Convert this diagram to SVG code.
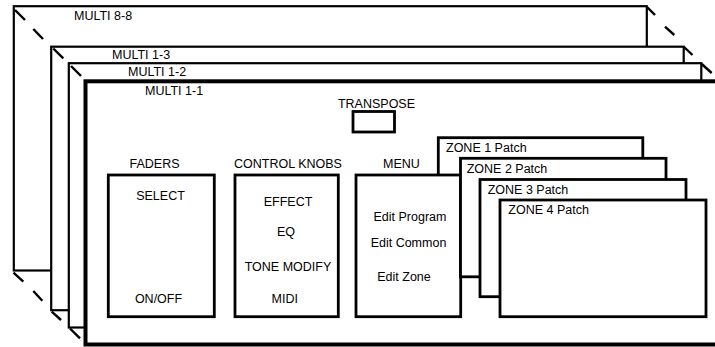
<svg xmlns="http://www.w3.org/2000/svg" width="715" height="347" viewBox="0 0 715 347">
<style>
text{font-family:"Liberation Sans",Arial,sans-serif;font-size:12.5px;fill:#000}
.fr{fill:#fff;stroke:#000;stroke-width:2.2}
.fr1{fill:#fff;stroke:#000;stroke-width:4}
.bx{fill:#fff;stroke:#000;stroke-width:2.8}
.m{text-anchor:middle}
.d{stroke:#000;stroke-width:2.4;fill:none}
</style>
<rect width="715" height="347" fill="#fff"/>
<g id="multi-8-8">
<rect class="fr" x="13.8" y="6.2" width="633" height="264.3"/>
<text x="74" y="20">MULTI 8-8</text>
</g>
<g id="multi-1-3">
<rect class="fr" x="51.2" y="46.7" width="632.5" height="263.5"/>
<text x="112" y="58.5">MULTI 1-3</text>
</g>
<g id="multi-1-2">
<rect class="fr" x="68.8" y="63.2" width="632.5" height="264.3"/>
<text x="128" y="76">MULTI 1-2</text>
</g>
<g id="multi-1-1">
<rect class="fr1" x="85.5" y="81.3" width="640" height="263.2"/>
<text x="145" y="95">MULTI 1-1</text>
</g>
<g id="transpose">
<text class="m" x="376.5" y="108">TRANSPOSE</text>
<rect class="bx" x="353" y="111.5" width="41.5" height="20.5"/>
</g>
<g id="faders">
<text class="m" x="154.5" y="168">FADERS</text>
<rect class="bx" x="108.3" y="175" width="106" height="141.7"/>
<text class="m" x="160.5" y="200">SELECT</text>
<text class="m" x="158.5" y="303">ON/OFF</text>
</g>
<g id="control-knobs">
<text class="m" x="288" y="168">CONTROL KNOBS</text>
<rect class="bx" x="235" y="175" width="103.3" height="141.7"/>
<text class="m" x="288" y="206">EFFECT</text>
<text class="m" x="286" y="236">EQ</text>
<text class="m" x="288" y="270.5">TONE MODIFY</text>
<text class="m" x="284.7" y="303">MIDI</text>
</g>
<g id="zone-1">
<rect class="bx" x="438.3" y="137.7" width="204.5" height="118"/>
<text x="446" y="151.5">ZONE 1 Patch</text>
</g>
<g id="menu">
<text class="m" x="401.5" y="168">MENU</text>
<rect class="bx" x="356" y="175" width="104.7" height="141.7"/>
<text class="m" x="410" y="220.5">Edit Program</text>
<text class="m" x="408.5" y="247.3">Edit Common</text>
<text class="m" x="404" y="281">Edit Zone</text>
</g>
<g id="zone-2">
<rect class="bx" x="460.5" y="158.3" width="205.5" height="118.5"/>
<text x="466.7" y="172.7">ZONE 2 Patch</text>
</g>
<g id="zone-3">
<rect class="bx" x="480" y="179.5" width="206" height="117.2"/>
<text x="487.7" y="193.5">ZONE 3 Patch</text>
</g>
<g id="zone-4">
<rect class="bx" x="500" y="200" width="206" height="116.7"/>
<text x="508.3" y="214.3">ZONE 4 Patch</text>
</g>
<g id="connectors">
<line class="d" x1="15" y1="10" x2="25" y2="20"/>
<line class="d" x1="33.3" y1="29" x2="43" y2="39"/>
<line class="d" x1="53.3" y1="48.5" x2="63.3" y2="58.3"/>
<line class="d" x1="71" y1="66" x2="81" y2="76"/>
<line class="d" x1="647" y1="7" x2="655" y2="15"/>
<line class="d" x1="665" y1="26.7" x2="674.3" y2="35"/>
<line class="d" x1="684" y1="47" x2="692.5" y2="55"/>
<line class="d" x1="701.7" y1="64" x2="711.7" y2="73"/>
<line class="d" x1="13.5" y1="272.7" x2="23.3" y2="281.7"/>
<line class="d" x1="33.3" y1="291" x2="42.3" y2="300.7"/>
<line class="d" x1="51.7" y1="311.7" x2="61" y2="320"/>
<line class="d" x1="70" y1="328.5" x2="80" y2="338.3"/>
</g>
</svg>
